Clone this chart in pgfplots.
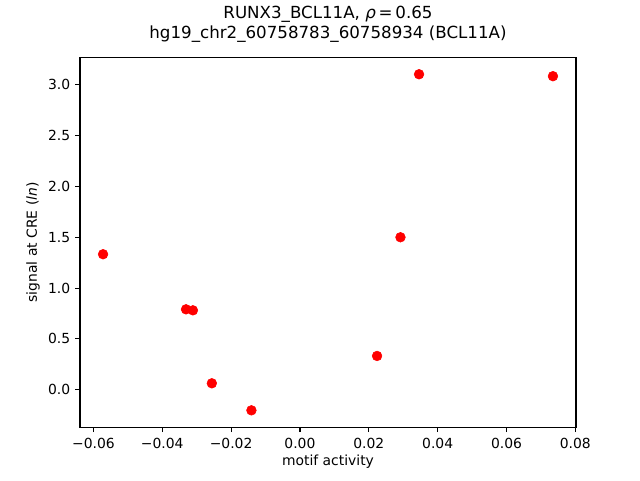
\documentclass[border=0pt]{standalone}
\usepackage{pgfplots}
\pgfplotsset{compat=1.18}
\usetikzlibrary{calc}
\usepackage{fontspec}
\setmainfont{DejaVu Sans}
\begin{document}
\begin{tikzpicture}
\begin{axis}[
    name=ax,
    scale only axis,
    width=357.1pt, height=266.1pt,
    xmin=-0.0639, xmax=0.0802,
    ymin=-0.369, ymax=3.268,
    scaled x ticks=false, scaled y ticks=false,
    xtick={-0.06,-0.04,-0.02,0,0.02,0.04,0.06,0.08},
    xticklabels={−0.06,−0.04,−0.02,0.00,0.02,0.04,0.06,0.08},
    ytick={0,0.5,1,1.5,2,2.5,3},
    yticklabels={0.0,0.5,1.0,1.5,2.0,2.5,3.0},
    tick align=outside, tick pos=left,
    major tick length=3.5pt,
    axis line style={line width=0.8pt},
    tick style={line width=0.8pt, black},
    ticklabel style={font=\fontsize{10}{12}\selectfont},
    xticklabel style={yshift=-1pt},
    label style={font=\fontsize{10}{12}\selectfont},
    xlabel={motif activity},
    ylabel={signal at CRE (\textit{ln})},
    xlabel style={at={(axis description cs:0.5,-0.0942)}, anchor=center},
    ylabel style={at={(axis description cs:-0.0948,0.5)}, anchor=center},
    title={RUNX3\_BCL11A, \textit{ρ}\,=\,0.65\\hg19\_chr2\_60758783\_60758934 (BCL11A)},
    title style={align=center, font=\fontsize{12}{14.4}\selectfont, at={(0.5,1)}, anchor=south, yshift=5pt, inner sep=0pt},
]
\addplot[only marks, mark=*, mark size=3.5pt, color=red, mark options={draw=red, fill=red}] coordinates {
    (-0.0572, 1.333) (-0.0331, 0.791) (-0.0311, 0.781) (-0.0256, 0.063)
    (-0.0141, -0.203) (0.0224, 0.332) (0.0292, 1.500) (0.0346, 3.104)
    (0.0735, 3.085)
};
\end{axis}
\pgfresetboundingbox
\path[use as bounding box] ($(ax.south west)+(-57.6pt,-38.02pt)$) rectangle ($(ax.north east)+(46.08pt,41.47pt)$);
\end{tikzpicture}
\end{document}
